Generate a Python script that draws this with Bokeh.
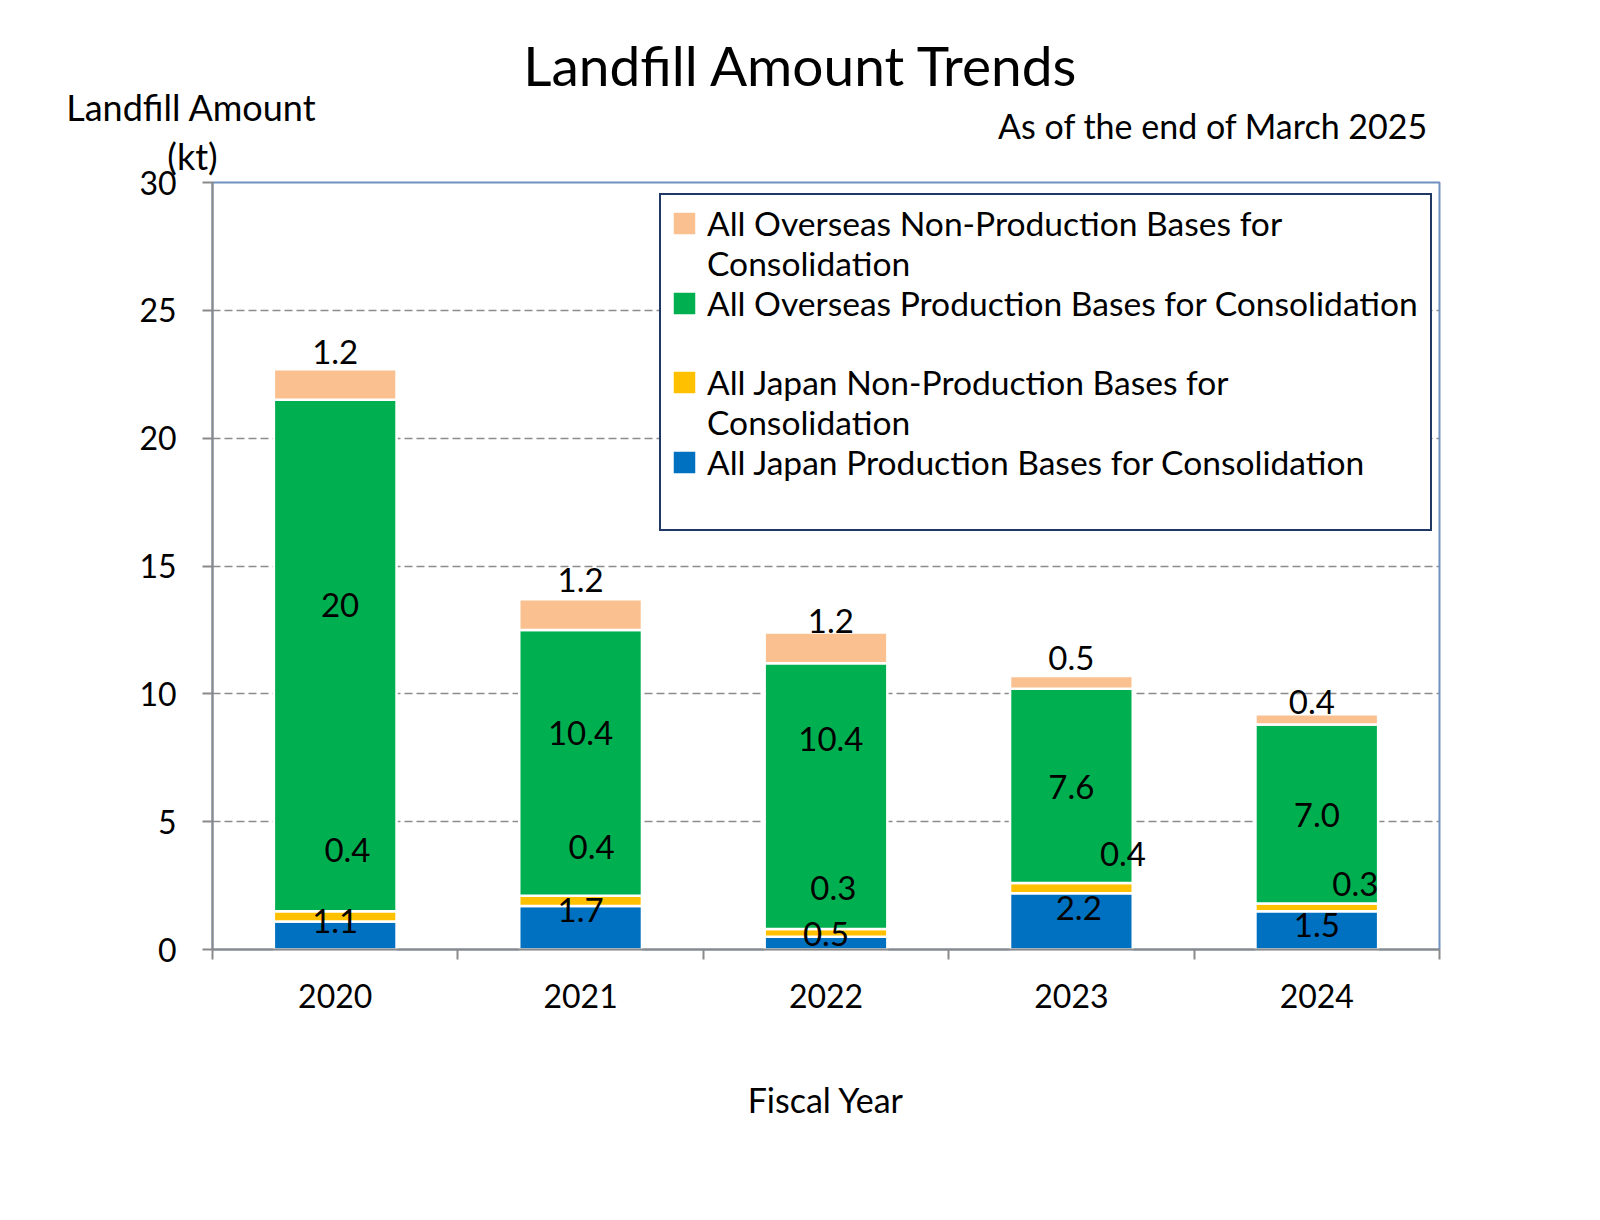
from bokeh.plotting import figure
from bokeh.models import (ColumnDataSource, Range1d, FixedTicker, Legend, LegendItem,
                          Label, LabelSet, BoxAnnotation)
from bokeh.core.properties import value
from bokeh.embed import file_html
from bokeh.resources import INLINE

# ---------------- data ----------------
years = ["2020", "2021", "2022", "2023", "2024"]
japan_prod = [1.1, 1.7, 0.5, 2.2, 1.5]
japan_nonprod = [0.4, 0.4, 0.3, 0.4, 0.3]
overseas_prod = [20.0, 10.4, 10.4, 7.6, 7.0]
overseas_nonprod = [1.2, 1.2, 1.2, 0.5, 0.4]

series_keys = ["japan_prod", "japan_nonprod", "overseas_prod", "overseas_nonprod"]
series_colors = ["#0070C0", "#FFC000", "#00B050", "#FAC090"]
y_ticks = [0, 5, 10, 15, 20, 25, 30]

title_text = "Landfill Amount Trends"
subtitle_text = "As of the end of March 2025"
y_title_lines = ["Landfill Amount", "(kt)"]
x_title_text = "Fiscal Year"

# legend rows as laid out in the original (None = continuation / blank row)
legend_rows = [
    (3, "All Overseas Non-Production Bases for"),
    (None, "Consolidation"),
    (2, "All Overseas Production Bases for Consolidation"),
    (None, " "),
    (1, "All Japan Non-Production Bases for"),
    (None, "Consolidation"),
    (0, "All Japan Production Bases for Consolidation"),
    (None, " "),
]

# data-label anchor heights (as placed in the original chart), in kt
label_y = {
    "japan_prod": [1.1, 1.53, 0.61, 1.62, 0.94],
    "japan_nonprod": [3.88, 4.0, 2.42, 3.75, 2.55],
    "overseas_prod": [13.46, 8.48, 8.24, 6.37, 5.25],
    "overseas_nonprod": [23.37, 14.44, 12.84, 11.4, 9.7],
}
label_dx = {
    "japan_prod": [0.0, 0.0, 0.0, 0.03, 0.0],
    "japan_nonprod": [0.05, 0.045, 0.03, 0.21, 0.157],
    "overseas_prod": [0.02, 0.0, 0.02, 0.0, 0.0],
    "overseas_nonprod": [0.0, 0.0, 0.02, 0.0, -0.02],
}

FONT = "Lato"
W, H = 1580, 1200
# pixel box of the plotting area inside the canvas
FL, FR, FT, FB = 212, 1439, 182, 949


def fmt(v):
    return "%d" % v if v >= 10 and v == int(v) else "%.1f" % v


n = len(years)
ymax = y_ticks[-1]
xpu = (FR - FL) / n
ypu = (FB - FT) / ymax
xc = [i + 0.5 for i in range(n)]
data = dict(x=xc, japan_prod=japan_prod, japan_nonprod=japan_nonprod,
            overseas_prod=overseas_prod, overseas_nonprod=overseas_nonprod)
src = ColumnDataSource(data)

# the frame covers the whole canvas, so titles placed around the plot area are not clipped
p = figure(width=W, height=H,
           x_range=Range1d(-FL / xpu, n + (W - FR) / xpu),
           y_range=Range1d(-(H - FB) / ypu, ymax + FT / ypu),
           output_backend="svg", toolbar_location=None,
           min_border=0, min_border_left=0, min_border_right=0,
           min_border_top=0, min_border_bottom=0)
try:
    p.title_location = None
except Exception:
    pass
p.outline_line_color = None
p.background_fill_color = "white"
p.border_fill_color = "white"

# plot-area border (top/right visible; left/bottom covered by the axes)
p.add_layout(BoxAnnotation(left=0, right=n, bottom=0, top=ymax, fill_alpha=0,
                           line_color="#7090C0", line_alpha=1.0, line_width=2,
                           level="underlay"))

# ---- grid ----
p.xgrid.visible = False
g = p.ygrid[0]
g.ticker = FixedTicker(ticks=y_ticks[1:-1], minor_ticks=[])
if "cross_bounds" in g.properties():
    g.cross_bounds = (0, n)
    g.grid_line_color = "#8C8C8C"
    g.grid_line_width = 1.5
    g.grid_line_dash = "8 4"
else:
    g.visible = False
    gt = y_ticks[1:-1]
    p.segment(x0=[0] * len(gt), x1=[n] * len(gt), y0=gt, y1=gt,
              line_color="#8C8C8C", line_width=1.5, line_dash="8 4")

rs = p.vbar_stack(series_keys, x="x", width=0.5, source=src,
                  fill_color=series_colors, line_color="white", line_width=2.5)

# ---- axes ----
xax = p.xaxis[0]
xax.fixed_location = 0
xax.bounds = (0, n)
xax.ticker = FixedTicker(ticks=xc, minor_ticks=list(range(n + 1)))
xax.major_label_overrides = {xc[i]: years[i] for i in range(n)}
xax.major_tick_line_color = None
xax.major_tick_out = 0
xax.major_tick_in = 0
xax.minor_tick_out = 10
xax.minor_tick_in = 0
xax.minor_tick_line_color = "#8A8A8A"
xax.minor_tick_line_width = 2
xax.axis_line_color = "#8A8A8A"
xax.axis_line_width = 2
xax.major_label_text_font = FONT
xax.major_label_text_font_size = "32px"
xax.major_label_text_color = "black"
xax.major_label_standoff = 24
xax.axis_label = x_title_text
xax.axis_label_text_font = FONT
xax.axis_label_text_font_style = "normal"
xax.axis_label_text_font_size = "34px"
xax.axis_label_text_color = "black"
xax.axis_label_standoff = 68

yax = p.yaxis[0]
yax.fixed_location = 0
yax.bounds = (0, ymax)
yax.ticker = FixedTicker(ticks=y_ticks, minor_ticks=[])
yax.major_tick_out = 10
yax.major_tick_in = 0
yax.major_tick_line_color = "#8A8A8A"
yax.major_tick_line_width = 2
yax.axis_line_color = "#8A8A8A"
yax.axis_line_width = 2
yax.major_label_text_font = FONT
yax.major_label_text_font_size = "32px"
yax.major_label_text_color = "black"
yax.major_label_standoff = 26

# ---- data labels ----
for key in series_keys:
    vals = data[key]
    lsrc = ColumnDataSource(dict(x=[xc[i] + label_dx[key][i] for i in range(n)],
                                 y=label_y[key], t=[fmt(v) for v in vals]))
    p.add_layout(LabelSet(x="x", y="y", text="t", source=lsrc, text_font=value(FONT),
                          text_font_size="33px", text_color="black",
                          text_align="center", text_baseline="middle"))

# ---- legend ----
items = []
for k, lab in legend_rows:
    items.append(LegendItem(label=lab, renderers=[rs[k]] if k is not None else []))
legend = Legend(items=items, location=(659, H - 531), orientation="vertical")
legend.label_text_font = FONT
legend.label_text_font_size = "33.6px"
legend.label_text_color = "black"
legend.glyph_width = 30
legend.glyph_height = 30
legend.label_standoff = 8
legend.label_height = 39
legend.label_width = 715
legend.spacing = 0
legend.padding = 8
legend.margin = 0
legend.border_line_color = "#203864"
legend.border_line_alpha = 1.0
legend.border_line_width = 2
legend.background_fill_color = "white"
legend.background_fill_alpha = 1.0
p.add_layout(legend)


# ---- titles (pixel position from the canvas top-left) ----
def txt(t, cx, cy, size, align):
    p.add_layout(Label(x=cx, y=H - cy, x_units="screen", y_units="screen", text=t,
                       text_font=FONT, text_font_size=size, text_color="black",
                       text_align=align, text_baseline="middle"))


txt(title_text, 801, 64, "55px", "center")
txt(subtitle_text, 1428, 125, "34px", "right")
txt(y_title_lines[0], 191, 106, "36px", "center")
txt(y_title_lines[1], 192, 155, "36px", "center")

open("out.html", "w").write(file_html(p, INLINE))
